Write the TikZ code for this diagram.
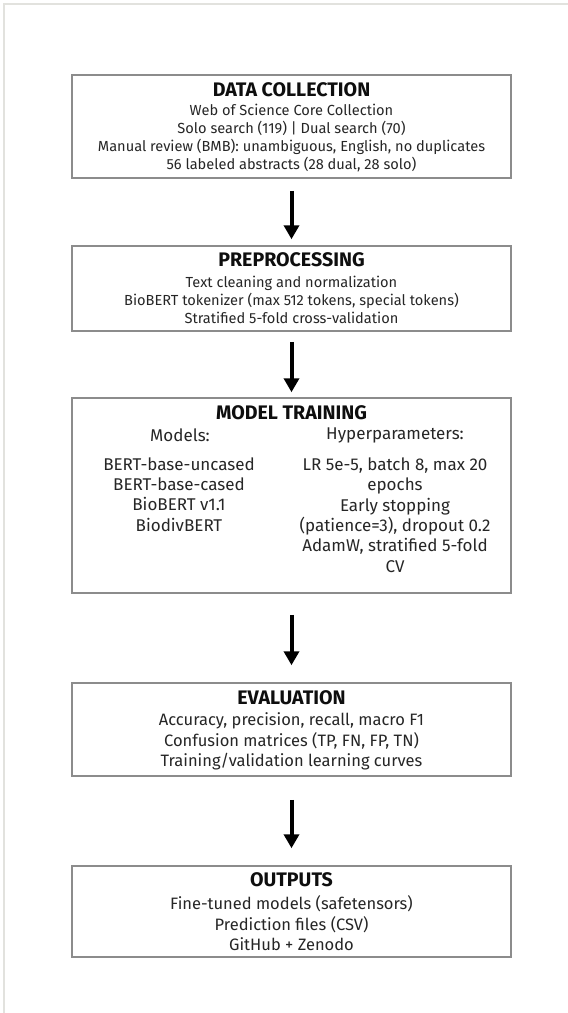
\documentclass[tikz,border=0pt]{standalone}
\usepackage{fontspec}
\setmainfont{Fira Sans}
\usetikzlibrary{arrows.meta}
\definecolor{boxgray}{HTML}{8C8C8C}
\definecolor{framegray}{HTML}{E2E2DE}
\definecolor{bodytext}{HTML}{262626}
\definecolor{titletext}{HTML}{0E0E0E}
\begin{document}
\begin{tikzpicture}[x=1pt,y=-1pt,
  stagebox/.style={draw=boxgray,line width=1.5pt,minimum width=439pt,inner sep=0pt,fill=white},
  titletxt/.style={font=\fontsize{19.6}{22}\bfseries\selectfont,text=titletext,inner sep=0pt},
  smallbody/.style={font=\fontsize{14.6}{18}\selectfont,text=bodytext,align=center,inner sep=0pt},
  bigbody/.style={font=\fontsize{16.5}{20.5}\selectfont,text=bodytext,align=center,inner sep=0pt},
  trainbody/.style={font=\fontsize{17}{20.4}\selectfont,text=bodytext,align=center,inner sep=0pt},
  flowarrow/.style={-{Triangle[width=15pt,length=14pt]},line width=4pt,black}
]
\fill[white] (0,0) rectangle (568,1013);
\useasboundingbox (0,0) rectangle (568,1013);
\draw[framegray,line width=1.5pt] (4,1013) -- (4,4) -- (568,4);

% boxes
\node[stagebox,minimum height=103pt] (collect) at (291.5,126.5) {};
\node[stagebox,minimum height=85pt] (prep) at (291.5,288.5) {};
\node[stagebox,minimum height=195pt] (train) at (291.5,495.5) {};
\node[stagebox,minimum height=93pt] (eval) at (291.5,729.5) {};
\node[stagebox,minimum height=91pt] (out) at (291.5,911.5) {};

% texts
\node[titletxt] (collectTitle) at (291.5,90) {DATA COLLECTION};
\node[smallbody] (collectBody) at (291.5,138) {Web of Science Core Collection\\Solo search (119) | Dual search (70)\\Manual review (BMB): unambiguous, English, no duplicates\\56 labeled abstracts (28 dual, 28 solo)};

\node[titletxt] (prepTitle) at (291.5,260) {PREPROCESSING};
\node[smallbody] (prepBody) at (291.5,299.5) {Text cleaning and normalization\\BioBERT tokenizer (max 512 tokens, special tokens)\\Stratified 5-fold cross-validation};

\node[titletxt] (trainTitle) at (291.5,413) {MODEL TRAINING};
\node[trainbody] (modelsHead) at (180,435) {Models:};
\node[trainbody] (modelsList) at (179,494.5) {BERT-base-uncased\\BERT-base-cased\\BioBERT v1.1\\BiodivBERT};
\node[trainbody] (hyperHead) at (395,435) {Hyperparameters:};
\node[trainbody] (hyperList) at (395,515) {LR 5e-5, batch 8, max 20\\epochs\\Early stopping\\(patience=3), dropout 0.2\\AdamW, stratified 5-fold\\CV};

\node[titletxt] (evalTitle) at (291.5,698) {EVALUATION};
\node[bigbody] (evalBody) at (291.5,741.5) {Accuracy, precision, recall, macro F1\\Confusion matrices (TP, FN, FP, TN)\\Training/validation learning curves};

\node[titletxt] (outTitle) at (291.5,880) {OUTPUTS};
\node[bigbody] (outBody) at (291.5,923.5) {Fine-tuned models (safetensors)\\Prediction files (CSV)\\GitHub + Zenodo};

% arrows
\draw[flowarrow,shorten <=12pt,shorten >=6pt] (collect.south) -- (prep.north);
\draw[flowarrow,shorten <=10pt,shorten >=5pt] (prep.south) -- (train.north);
\draw[flowarrow,shorten <=21pt,shorten >=17pt] (train.south) -- (eval.north);
\draw[flowarrow,shorten <=23pt,shorten >=17pt] (eval.south) -- (out.north);
\end{tikzpicture}
\end{document}
